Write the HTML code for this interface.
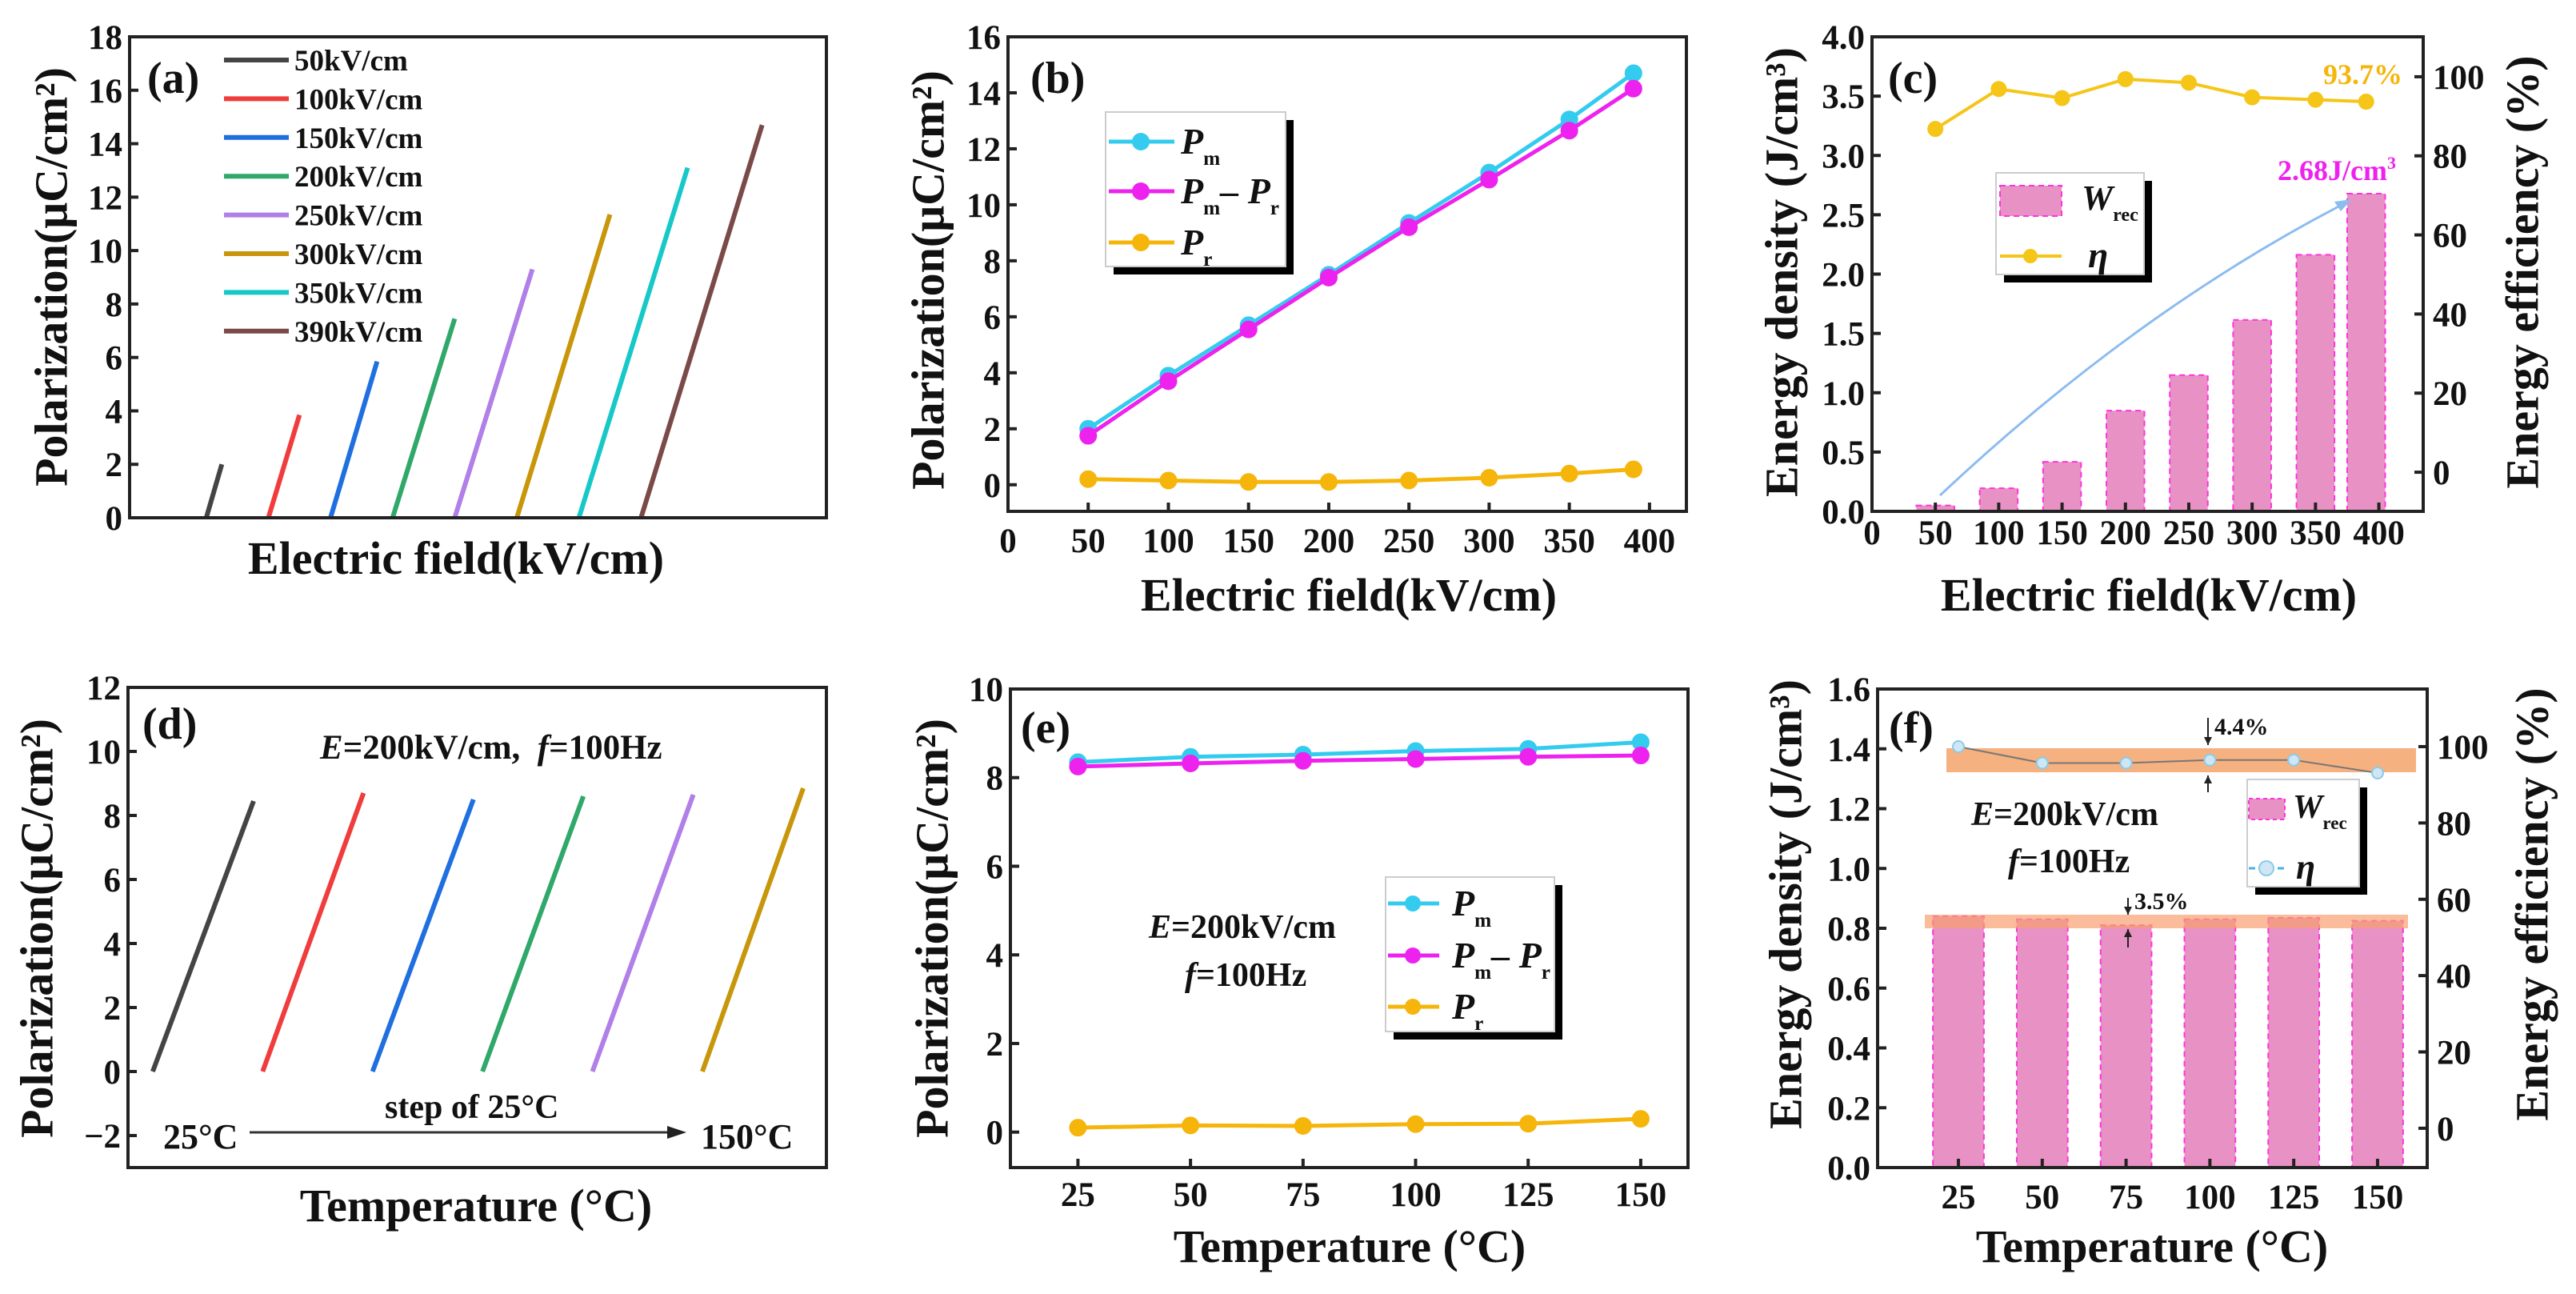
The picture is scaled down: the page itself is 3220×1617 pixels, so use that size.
<!DOCTYPE html>
<html><head><meta charset="utf-8">
<style>
html,body{margin:0;padding:0;background:#fff;}
svg{display:block;}
text{font-family:"Liberation Serif",serif;font-weight:bold;}
</style></head>
<body>
<svg id="fig" width="3220" height="1617" viewBox="0 0 3220 1617" xmlns="http://www.w3.org/2000/svg">
<rect x="0" y="0" width="3220" height="1617" fill="#fff"/>
</svg>
<script>
// ---------- data ----------
const aFields=[50,100,150,200,250,300,350,390];
const aPmax=[2.0,3.85,5.85,7.45,9.3,11.35,13.1,14.7];
const aLabels=['50kV/cm','100kV/cm','150kV/cm','200kV/cm','250kV/cm','300kV/cm','350kV/cm','390kV/cm'];
const aYTicks=[0,2,4,6,8,10,12,14,16,18];
const bFields=[50,100,150,200,250,300,350,390];
const bPm=[2.0,3.9,5.7,7.5,9.35,11.15,13.05,14.7];
const bPmPr=[1.75,3.7,5.55,7.4,9.2,10.9,12.65,14.15];
const bPr=[0.2,0.15,0.1,0.1,0.15,0.25,0.4,0.55];
const bXTicks=[0,50,100,150,200,250,300,350,400];
const bYTicks=[0,2,4,6,8,10,12,14,16];
const cFields=[50,100,150,200,250,300,350,390];
const cW=[0.05,0.195,0.417,0.849,1.148,1.614,2.163,2.678];
const cEta=[86.8,96.9,94.6,99.4,98.5,94.8,94.2,93.7];
const cXTicks=[0,50,100,150,200,250,300,350,400];
const cYTicks=[0,0.5,1.0,1.5,2.0,2.5,3.0,3.5,4.0];
const cRTicks=[0,20,40,60,80,100];
const dTemps=[25,50,75,100,125,150];
const dPmax=[8.45,8.7,8.5,8.6,8.65,8.85];
const dYTicks=[-2,0,2,4,6,8,10,12];
const eTemps=[25,50,75,100,125,150];
const ePm=[8.35,8.47,8.52,8.6,8.65,8.8];
const ePmPr=[8.25,8.32,8.38,8.42,8.47,8.5];
const ePr=[0.1,0.15,0.14,0.18,0.19,0.3];
const eYTicks=[0,2,4,6,8,10];
const fTemps=[25,50,75,100,125,150];
const fW=[0.84,0.83,0.81,0.83,0.835,0.825];
const fEta=[100,95.7,95.7,96.5,96.5,93.1];
const fYTicks=[0,0.2,0.4,0.6,0.8,1.0,1.2,1.4,1.6];
const fRTicks=[0,20,40,60,80,100];

const loopColors=['#444444','#f03c3c','#1f6fe0','#2fa86a','#b07fe8','#c8960a','#17c8c8','#7a4a48'];
const NS='http://www.w3.org/2000/svg';
const svg=document.getElementById('fig');
function el(tag,a,p){const e=document.createElementNS(NS,tag);for(const k in a)e.setAttribute(k,a[k]);(p||svg).appendChild(e);return e;}
function txt(s,a,p){if(a.fill===undefined)a.fill='#111';const e=el('text',a,p);e.textContent=s;return e;}
function sc(d0,d1,r0,r1){return v=>r0+(v-d0)/(d1-d0)*(r1-r0);}

function box(name,x0,y0,x1,y1){
  const r=el('rect',{x:x0,y:y0,width:x1-x0,height:y1-y0,fill:'none',stroke:'#222','stroke-width':4});
  
  
}
function yTicksLeft(prefix,ys,ticks,fmt,x0){
  ticks.forEach(t=>{const y=ys(t);
    const l=el('line',{x1:x0,x2:x0+11,y1:y,y2:y,stroke:'#222','stroke-width':4});
    
    
    const s=txt(fmt(t),{x:x0-9,y:y+15,'text-anchor':'end','font-size':43});
    
    
  });
}
function yTicksRight(prefix,ys,ticks,x1){
  ticks.forEach(t=>{const y=ys(t);
    const l=el('line',{x1:x1-11,x2:x1,y1:y,y2:y,stroke:'#222','stroke-width':4});
    
    
    const s=txt(String(t),{x:x1+12,y:y+15,'text-anchor':'start','font-size':43});
    
    
  });
}
function xTicks(prefix,xs,ticks,y1,ly){
  ticks.forEach(t=>{const x=xs(t);
    const l=el('line',{x1:x,x2:x,y1:y1-11,y2:y1,stroke:'#222','stroke-width':4});
    
    
    const s=txt(String(t),{x:x,y:ly,'text-anchor':'middle','font-size':43});
    
    
  });
}
function label(name,s,x,y,size,anchor,extra){
  const a={x:x,y:y,'font-size':size,'text-anchor':anchor||'start'};
  if(extra)for(const k in extra)a[k]=extra[k];
  const t=txt(s,a);
  
  
  return t;
}
function vlabel(name,s,cx,cy,size){
  const t=txt(s,{x:cx,y:cy,'font-size':size,'text-anchor':'middle','dominant-baseline':'central',transform:'rotate(-90 '+cx+' '+cy+')'});
  
  
  return t;
}
function legendFrame(name,x,y,w,h){
  const s=el('rect',{x:x+10,y:y+10,width:w,height:h,fill:'#000'});
  
  
  const r=el('rect',{x:x,y:y,width:w,height:h,fill:'#fff',stroke:'#ccc','stroke-width':2});
  
  
}
function pText(name,x,y,parts,size){
  const t=txt('',{x:x,y:y,'font-size':size});
  
  
  parts.forEach(p=>{
    const ts=el('tspan',p[1]?{'font-size':size*0.55,dy:14,'font-style':'normal'}:{'font-style':'italic',dy:p[2]||0},t);
    ts.textContent=p[0];
  });
  return t;
}
function series(prefix,xs,ys,X,Y,color,r,lw,stroke){
  const pts=X.map((x,i)=>xs(x)+','+ys(Y[i])).join(' ');
  const pl=el('polyline',{points:pts,fill:'none',stroke:stroke||color,'stroke-width':lw});
  
  
  X.forEach((x,i)=>{
    const c=el('circle',{cx:xs(x),cy:ys(Y[i]),r:r,fill:color,stroke:stroke?'#8ccbe8':color,'stroke-width':2});
    
    
  });
}

// ================= Panel (a) =================
(function(){
  const L=162,T=46,R=1033,B=647;
  const xs=sc(-247,1997,L,R), ys=sc(0,18,B,T);
  aFields.forEach((E,i)=>{
    const off=i*200;
    const ln=el('line',{x1:xs(off),y1:ys(0),x2:xs(off+E),y2:ys(aPmax[i]),stroke:loopColors[i],'stroke-width':6,'stroke-linecap':'butt'});
    
    
  });
  box('panel-a-frame',L,T,R,B);
  yTicksLeft('panel-a',ys,aYTicks,String,L);
  aLabels.forEach((s,i)=>{
    const y=75+i*48.4;
    const l=el('line',{x1:280,x2:361,y1:y,y2:y,stroke:loopColors[i],'stroke-width':6});
    
    
    label('legend-entry-'+s,s,368,y+13,37);
  });
  label('panel-a-tag','(a)',184,116,56);
  vlabel('panel-a-y-axis-title','Polarization(μC/cm²)',64,346,58);
  label('panel-a-x-axis-title','Electric field(kV/cm)',570,717,58,'middle');
})();

// ================= Panel (b) =================
(function(){
  const L=1260,T=46,R=2108,B=639;
  const xs=sc(0,423,L,R), ys=sc(-0.95,16,B,T);
  series('pr',xs,ys,bFields,bPr,'#f5b50a',10,5);
  series('pm',xs,ys,bFields,bPm,'#33ccee',10,5);
  series('pm-minus-pr',xs,ys,bFields,bPmPr,'#ee22ee',10,5);
  box('panel-b-frame',L,T,R,B);
  yTicksLeft('panel-b',ys,bYTicks,String,L);
  xTicks('panel-b',xs,bXTicks,B,690);
  legendFrame('panel-b-legend',1382,140,225,193);
  const rows=[[177,'#33ccee',[['P'],['m',1]]],[239,'#ee22ee',[['P'],['m',1],['– P',0,-14],['r',1]]],[303,'#f5b50a',[['P'],['r',1]]]];
  rows.forEach((r,i)=>{
    const l=el('line',{x1:1386,x2:1468,y1:r[0],y2:r[0],stroke:r[1],'stroke-width':5});
    
    
    const c=el('circle',{cx:1426,cy:r[0],r:11,fill:r[1]});
    
    
    pText('panel-b-legend-label',1476,r[0]+15,r[2],46);
  });
  label('panel-b-tag','(b)',1288,116,56);
  vlabel('panel-b-y-axis-title','Polarization(μC/cm²)',1160,350,58);
  label('panel-b-x-axis-title','Electric field(kV/cm)',1686,763,58,'middle');
})();

// ================= Panel (c) =================
(function(){
  const L=2340,T=46,R=3029,B=639;
  const xs=sc(0,435,L,R), ys=sc(0,4,B,T), yr=sc(-9.9,110.1,B,T);
  cFields.forEach((f,i)=>{
    const b=el('rect',{x:xs(f-15),y:ys(cW[i]),width:xs(f+15)-xs(f-15),height:ys(0)-ys(cW[i]),fill:'#e891c4',stroke:'#ff33dd','stroke-width':2,'stroke-dasharray':'7,5'});
    
    
  });
  series('eta',xs,yr,cFields,cEta,'#f5c518',9,4);
  const ar=el('path',{d:'M2425,619 Q2671,388 2933,253',fill:'none',stroke:'#8cbcf0','stroke-width':3});
  
  
  const ah=el('polygon',{points:'2940,249 2918,252 2926,264',fill:'#8cbcf0'});
  
  
  box('panel-c-frame',L,T,R,B);
  yTicksLeft('panel-c',ys,cYTicks,v=>v.toFixed(1),L);
  yTicksRight('panel-c',yr,cRTicks,R);
  xTicks('panel-c',xs,cXTicks,B,680);
  legendFrame('panel-c-legend',2495,216,185,127);
  const sw=el('rect',{x:2500,y:232,width:77,height:38,fill:'#e891c4',stroke:'#ff33dd','stroke-width':2,'stroke-dasharray':'7,5'});
  
  
  pText('panel-c-legend-wrec-label',2602,262,[['W'],['rec',1]],44);
  const el1=el('line',{x1:2500,x2:2577,y1:320,y2:320,stroke:'#f5c518','stroke-width':4});
  
  
  const ec=el('circle',{cx:2538,cy:320,r:9,fill:'#f5c518'});
  
  
  pText('panel-c-legend-eta-label',2610,334,[['η']],46);
  label('eta-max-annotation','93.7%',2904,105,36,'start',{fill:'#f5b50a'});
  const w=label('wrec-max-annotation','2.68J/cm',2847,225,36,'start',{fill:'#ee22ee'});
  const sup=el('tspan',{'font-size':22,dy:-14},w); sup.textContent='3';
  label('panel-c-tag','(c)',2360,116,56);
  vlabel('panel-c-y-axis-title','Energy density (J/cm³)',2227,340,58);
  vlabel('panel-c-right-axis-title','Energy  efficiency (%)',3153,340,58);
  label('panel-c-x-axis-title','Electric field(kV/cm)',2686,763,58,'middle');
})();

// ================= Panel (d) =================
(function(){
  const L=160,T=859,R=1033,B=1459;
  const xs=sc(-49,1336,L,R), ys=sc(-3,12,B,T);
  dTemps.forEach((t,i)=>{
    const off=i*218;
    const ln=el('line',{x1:xs(off),y1:ys(0),x2:xs(off+200),y2:ys(dPmax[i]),stroke:loopColors[i],'stroke-width':6});
    
    
  });
  box('panel-d-frame',L,T,R,B);
  yTicksLeft('panel-d',ys,dYTicks,v=>v<0?'−'+(-v):String(v),L);
  const t1=label('panel-d-condition','',400,948,43);
  let s=el('tspan',{'font-style':'italic'},t1); s.textContent='E';
  s=el('tspan',{},t1); s.textContent='=200kV/cm,\u00a0\u00a0';
  s=el('tspan',{'font-style':'italic'},t1); s.textContent='f';
  s=el('tspan',{},t1); s.textContent='=100Hz';
  label('step-annotation','step of 25°C',481,1397,42);
  label('start-temp-label','25°C',204,1435,44);
  label('end-temp-label','150°C',876,1435,44);
  const ar=el('line',{x1:312,x2:838,y1:1415,y2:1415,stroke:'#333','stroke-width':3});
  
  
  const ah=el('polygon',{points:'858,1415 834,1407 834,1423',fill:'#222'});
  
  
  label('panel-d-tag','(d)',178,923,56);
  vlabel('panel-d-y-axis-title','Polarization(μC/cm²)',46,1160,58);
  label('panel-d-x-axis-title','Temperature (°C)',595,1526,58,'middle');
})();

// ================= Panel (e) =================
(function(){
  const L=1263,T=861,R=2110,B=1459;
  const xs=sc(10,160.5,L,R), ys=sc(-0.8,10,B,T);
  series('e-pr',xs,ys,eTemps,ePr,'#f5b50a',10,5);
  series('e-pm',xs,ys,eTemps,ePm,'#33ccee',10,5);
  series('e-pm-minus-pr',xs,ys,eTemps,ePmPr,'#ee22ee',10,5);
  box('panel-e-frame',L,T,R,B);
  yTicksLeft('panel-e',ys,eYTicks,String,L);
  xTicks('panel-e',xs,eTemps,B,1507);
  legendFrame('panel-e-legend',1732,1096,211,193);
  const rows=[[1129,'#33ccee',[['P'],['m',1]]],[1194,'#ee22ee',[['P'],['m',1],['– P',0,-14],['r',1]]],[1258,'#f5b50a',[['P'],['r',1]]]];
  rows.forEach(r=>{
    const l=el('line',{x1:1735,x2:1799,y1:r[0],y2:r[0],stroke:r[1],'stroke-width':5});
    
    
    const c=el('circle',{cx:1766,cy:r[0],r:10,fill:r[1]});
    
    
    pText('panel-e-legend-label',1815,r[0]+15,r[2],46);
  });
  const t1=label('panel-e-field-condition','',1436,1172,42);
  let s=el('tspan',{'font-style':'italic'},t1); s.textContent='E';
  s=el('tspan',{},t1); s.textContent='=200kV/cm';
  const t2=label('panel-e-freq-condition','',1481,1232,42);
  s=el('tspan',{'font-style':'italic'},t2); s.textContent='f';
  s=el('tspan',{},t2); s.textContent='=100Hz';
  label('panel-e-tag','(e)',1276,928,56);
  vlabel('panel-e-y-axis-title','Polarization(μC/cm²)',1165,1160,58);
  label('panel-e-x-axis-title','Temperature (°C)',1687,1577,58,'middle');
})();

// ================= Panel (f) =================
(function(){
  const L=2347,T=861,R=3034,B=1459;
  const xs=sc(0.9,164.8,L,R), ys=sc(0,1.6,B,T), yr=sc(-10.3,115.1,B,T);
  fTemps.forEach((t,i)=>{
    const b=el('rect',{x:xs(t-7.6),y:ys(fW[i]),width:xs(t+7.6)-xs(t-7.6),height:ys(0)-ys(fW[i]),fill:'#e891c4',stroke:'#ff33dd','stroke-width':2,'stroke-dasharray':'7,5'});
    
    
  });
  const b1=el('rect',{x:2433,y:935,width:587,height:30,fill:'#f5a36a',opacity:0.85});
  
  
  const b2=el('rect',{x:2406,y:1143,width:604,height:17,fill:'#f8a070',opacity:0.7});
  
  
  series('f-eta',xs,yr,fTemps,fEta,'#cfe6f4',7,2,'#777');
  const arrows=[[2760,897,931],[2760,990,969],[2660,1122,1143],[2660,1184,1161]];
  arrows.forEach(a=>{
    const l=el('line',{x1:a[0],x2:a[0],y1:a[1],y2:a[2],stroke:'#222','stroke-width':2});
    
    
    const d=a[2]>a[1]?1:-1;
    const h=el('polygon',{points:a[0]+','+a[2]+' '+(a[0]-5)+','+(a[2]-10*d)+' '+(a[0]+5)+','+(a[2]-10*d),fill:'#222'});
    
    
  });
  label('efficiency-variation','4.4%',2768,918,30,'start',{'font-weight':'normal'});
  label('energy-variation','3.5%',2668,1136,30,'start',{'font-weight':'normal'});
  box('panel-f-frame',L,T,R,B);
  yTicksLeft('panel-f',ys,fYTicks,v=>v.toFixed(1),L);
  yTicksRight('panel-f',yr,fRTicks,R);
  xTicks('panel-f',xs,fTemps,B,1510);
  legendFrame('panel-f-legend',2809,974,140,134);
  const sw=el('rect',{x:2811,y:998,width:45,height:26,fill:'#e891c4',stroke:'#ff33dd','stroke-width':2,'stroke-dasharray':'5,4'});
  
  
  pText('panel-f-legend-wrec-label',2866,1022,[['W'],['rec',1]],42);
  const el1=el('line',{x1:2811,x2:2856,y1:1085,y2:1085,stroke:'#4ab0e0','stroke-width':3,'stroke-dasharray':'8,4'});
  
  
  const ec=el('circle',{cx:2833,cy:1085,r:9,fill:'#cfe6f4',stroke:'#8ccbe8','stroke-width':2});
  
  
  pText('panel-f-legend-eta-label',2870,1098,[['η']],44);
  const t1=label('panel-f-field-condition','',2464,1031,42);
  let s=el('tspan',{'font-style':'italic'},t1); s.textContent='E';
  s=el('tspan',{},t1); s.textContent='=200kV/cm';
  const t2=label('panel-f-freq-condition','',2510,1090,42);
  s=el('tspan',{'font-style':'italic'},t2); s.textContent='f';
  s=el('tspan',{},t2); s.textContent='=100Hz';
  label('panel-f-tag','(f)',2361,928,56);
  vlabel('panel-f-y-axis-title','Energy density (J/cm³)',2232,1130,58);
  vlabel('panel-f-right-axis-title','Energy  efficiency (%)',3165,1130,58);
  label('panel-f-x-axis-title','Temperature (°C)',2690,1577,58,'middle');
})();
</script>
</body></html>
